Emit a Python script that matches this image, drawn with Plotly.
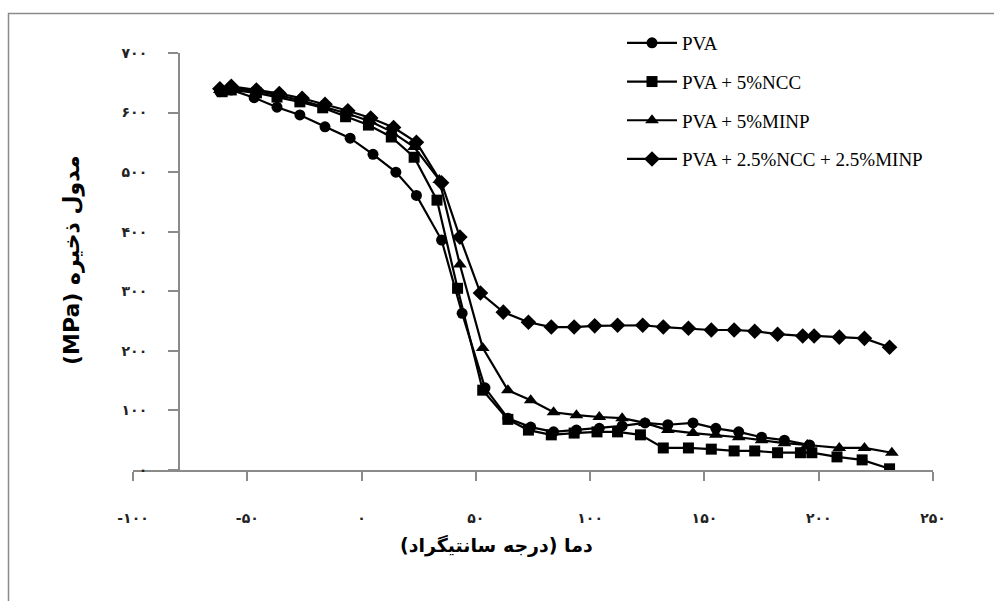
import plotly.graph_objects as go

# ---------------- data ----------------
T_pva = [-62, -57, -47, -37, -27, -16, -5, 5, 15, 24, 35, 44, 54, 64, 74, 84, 94,
         104, 114, 124, 134, 145, 155, 165, 175, 185, 196]
E_pva = [635, 638, 625, 609, 596, 576, 557, 530, 500, 461, 386, 263, 138, 87, 72, 64, 67,
         70, 74, 79, 76, 79, 70, 64, 55, 50, 42]

T_ncc = [-61, -57, -46, -37, -27, -17, -7, 3, 13, 23, 33, 42, 53, 64, 73, 83, 93, 103,
         112, 122, 132, 143, 153, 163, 172, 182, 192, 197, 208, 219, 231]
E_ncc = [635, 638, 633, 626, 618, 608, 593, 579, 559, 525, 453, 305, 134, 85, 67, 59, 62, 64,
         64, 59, 37, 37, 35, 32, 32, 29, 29, 29, 22, 17, 2]

T_minp = [-62, -57, -46, -36, -26, -16, -6, 4, 13, 23, 34, 43, 53, 64, 74, 84, 94, 104,
          114, 124, 134, 145, 155, 165, 175, 185, 195, 209, 220, 232]
E_minp = [638, 641, 636, 629, 620, 609, 598, 585, 568, 542, 487, 345, 205, 134, 117, 97, 92, 89,
          87, 79, 67, 62, 59, 55, 50, 45, 42, 37, 37, 29]

T_mix = [-62, -57, -46, -36, -26, -16, -6, 4, 14, 24, 35, 43, 52, 62, 73, 83, 93, 102,
         112, 123, 132, 143, 153, 163, 172, 182, 193, 198, 209, 220, 231]
E_mix = [640, 644, 638, 632, 624, 614, 603, 591, 575, 550, 482, 391, 297, 265, 248, 240, 240, 242,
         243, 243, 240, 238, 235, 235, 233, 228, 225, 225, 223, 221, 206]

series_names = ["PVA", "PVA + 5%NCC", "PVA + 5%MINP", "PVA + 2.5%NCC + 2.5%MINP"]

x_tick_vals = [-100, -50, 0, 50, 100, 150, 200, 250]
x_tick_text = ["-۱۰۰", "-۵۰", "۰", "۵۰", "۱۰۰", "۱۵۰", "۲۰۰", "۲۵۰"]
y_tick_vals = [0, 100, 200, 300, 400, 500, 600, 700]
y_tick_text = ["۰", "۱۰۰", "۲۰۰", "۳۰۰", "۴۰۰", "۵۰۰", "۶۰۰", "۷۰۰"]

x_title = "دما (درجه سانتیگراد)\u200f"
y_title = "\u202bمدول ذخیره (MPa)\u202c"

# ---------------- figure ----------------
W, H = 994, 601
def fx(p):
    return p / W
def fy(p):
    return (H - p) / H

GRAY = "#8a8a8a"

fig = go.Figure()
data = [(T_pva, E_pva, "circle", 11),
        (T_ncc, E_ncc, "square", 11),
        (T_minp, E_minp, "triangle-up", 12),
        (T_mix, E_mix, "diamond", 12)]
for i, (xs, ys, sym, size) in enumerate(data):
    fig.add_trace(go.Scatter(
        x=xs, y=ys, name=series_names[i], mode="lines+markers",
        line=dict(color="black", width=2.2),
        marker=dict(symbol=sym, size=size, color="black"),
        legendgroup="g%d" % i, showlegend=True))

fig.update_layout(
    width=W, height=H,
    margin=dict(l=0, r=0, t=0, b=0, autoexpand=False),
    paper_bgcolor="white", plot_bgcolor="white",
    xaxis=dict(
        domain=[fx(133), fx(933)], range=[-100, 250],
        showgrid=False, zeroline=False, automargin=False,
        showline=True, linecolor=GRAY, linewidth=2,
        ticks="outside", ticklen=9, tickcolor=GRAY, tickwidth=2,
        tickvals=x_tick_vals, ticktext=x_tick_text,
        tickfont=dict(family="DejaVu Sans", size=14, color="#222", weight="bold"),
        ticklabelstandoff=25,
        anchor="y",
    ),
    yaxis=dict(
        domain=[fy(470), fy(53)], range=[0, 700],
        anchor="free", position=fx(179), automargin=False,
        showgrid=False, zeroline=False,
        showline=True, linecolor=GRAY, linewidth=2,
        ticks="outside", ticklen=10, tickcolor=GRAY, tickwidth=2,
        tickvals=y_tick_vals, ticktext=y_tick_text,
        tickfont=dict(family="DejaVu Sans", size=14, color="#222", weight="bold"),
        ticklabelstandoff=18,
    ),
    legend=dict(
        x=fx(622), y=fy(24), xanchor="left", yanchor="top",
        bgcolor="rgba(0,0,0,0)",
        font=dict(family="Liberation Serif", size=19, color="black"),
        tracegroupgap=11, itemwidth=50,
    ),
    showlegend=True,
)

fig.add_annotation(text=x_title, xref="paper", yref="paper",
                   x=fx(496), y=fy(559), showarrow=False,
                   font=dict(family="DejaVu Sans", size=19, color="black", weight="bold"))
fig.add_annotation(text=y_title, xref="paper", yref="paper",
                   x=fx(57), y=fy(260), showarrow=False, textangle=-90,
                   font=dict(family="DejaVu Sans", size=22, color="black", weight="bold"))

fig.add_shape(type="rect", xref="paper", yref="paper",
              x0=fx(8.5), x1=1.05, y0=-0.05, y1=fy(13.5),
              line=dict(color=GRAY, width=1.5), fillcolor="rgba(0,0,0,0)", layer="below")

fig.write_html("out.html")
